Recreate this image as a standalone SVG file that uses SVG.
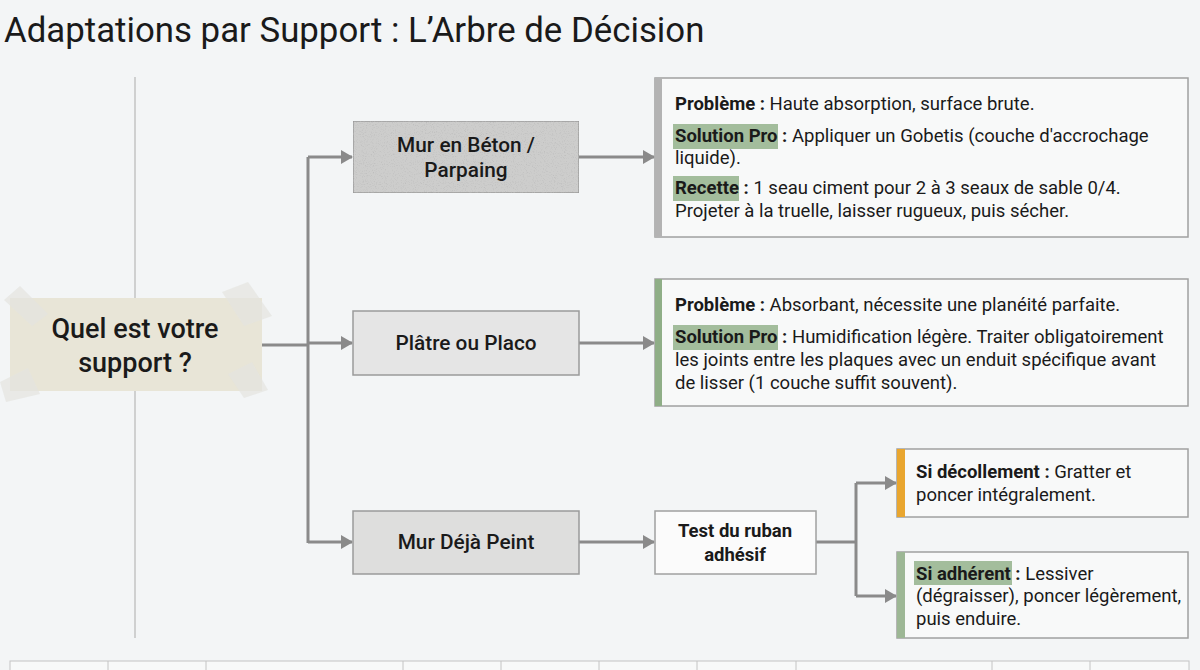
<svg xmlns="http://www.w3.org/2000/svg" width="1200" height="670" viewBox="0 0 1200 670">
<defs>
<style>
.t{font-family:Roboto,"Liberation Sans",Arial,sans-serif;fill:#1a1a1a}
.title{font-size:34.8px}
.node{font-size:20.8px;font-weight:500;text-anchor:middle}
.note{font-size:27px;font-weight:500;text-anchor:middle}
.body{font-size:18.5px}
.b{font-weight:700}
.conn{fill:none;stroke:#8a8a8a;stroke-width:3}
.box{stroke:#9a9a9a;stroke-width:1.5}
.card{fill:#f8f9f9;stroke:#a0a0a0;stroke-width:1.5}
.hl{fill:#a3bd9c}
.tape{fill:#e4e4df;opacity:0.7}
.grid{fill:#f8f9f9;stroke:#c4c4c4;stroke-width:1}
</style>
<marker id="ah" markerWidth="12" markerHeight="14" refX="11" refY="7" orient="auto" markerUnits="userSpaceOnUse">
<path d="M0,0 L12,7 L0,14 Z" fill="#8a8a8a"/>
</marker>
<filter id="concrete" x="0" y="0" width="100%" height="100%">
<feTurbulence type="fractalNoise" baseFrequency="0.9" numOctaves="2" seed="3" result="n"/>
<feColorMatrix in="n" type="matrix" values="0 0 0 0 0.5  0 0 0 0 0.5  0 0 0 0 0.5  0 0 0 -2.4 1.15" result="spk"/>
<feComposite in="spk" in2="SourceGraphic" operator="in" result="s2"/>
<feMerge><feMergeNode in="SourceGraphic"/><feMergeNode in="s2"/></feMerge>
</filter>
</defs>
<rect width="1200" height="670" fill="#f3f5f6"/>

<text class="t title" x="4" y="42">Adaptations par Support : L’Arbre de Décision</text>

<line x1="135" y1="77" x2="135" y2="638" stroke="#b8b8b8" stroke-width="1.2"/>

<g id="connectors">
<path class="conn" d="M262,345 H308"/>
<path class="conn" d="M308,157 V543"/>
<path class="conn" d="M308,157 H352" marker-end="url(#ah)"/>
<path class="conn" d="M308,343 H352" marker-end="url(#ah)"/>
<path class="conn" d="M308,542 H352" marker-end="url(#ah)"/>
<path class="conn" d="M579,157 H654" marker-end="url(#ah)"/>
<path class="conn" d="M579,343 H654" marker-end="url(#ah)"/>
<path class="conn" d="M579,542 H654" marker-end="url(#ah)"/>
<path class="conn" d="M816,542 H856"/>
<path class="conn" d="M856,483 V596"/>
<path class="conn" d="M856,483 H896" marker-end="url(#ah)"/>
<path class="conn" d="M856,596 H896" marker-end="url(#ah)"/>
</g>

<g id="question">
<rect x="10" y="298" width="252" height="93" fill="#e8e5d7"/>
<polygon class="tape" points="4,300 20,286 48,314 32,326"/>
<polygon class="tape" points="222,292 248,282 272,316 244,326"/>
<polygon class="tape" points="0,382 28,368 40,394 6,402"/>
<polygon class="tape" points="228,374 252,362 268,390 244,398"/>
<text class="t note" x="135" y="338">Quel est votre</text>
<text class="t note" x="135" y="372">support ?</text>
</g>

<g id="n-beton">
<rect class="box" x="353" y="121" width="226" height="72" fill="#cdcdcc" filter="url(#concrete)"/>
<text class="t node" x="466" y="152">Mur en Béton /</text>
<text class="t node" x="466" y="177">Parpaing</text>
</g>

<g id="n-platre">
<rect class="box" x="353" y="311" width="226" height="64" fill="#e5e5e5"/>
<text class="t node" x="466" y="350">Plâtre ou Placo</text>
</g>

<g id="n-peint">
<rect class="box" x="353" y="511" width="226" height="63" fill="#dededd"/>
<text class="t node" x="466" y="549">Mur Déjà Peint</text>
</g>

<g id="n-test">
<rect x="655" y="511" width="161" height="63" fill="#fbfbfb" stroke="#a0a0a0" stroke-width="1.5"/>
<text class="t node b" x="735" y="537" style="font-size:18.5px">Test du ruban</text>
<text class="t node b" x="735" y="561" style="font-size:18.5px">adhésif</text>
</g>

<g id="d-beton">
<rect class="card" x="655" y="78" width="533" height="159"/>
<rect x="655" y="78" width="7" height="159" fill="#b3b3b3"/>
<rect class="hl" x="673" y="124" width="105" height="25"/>
<rect class="hl" x="673" y="176" width="66" height="25"/>
<text class="t body" x="675" y="110"><tspan class="b">Problème :</tspan> Haute absorption, surface brute.</text>
<text class="t body" x="675" y="142"><tspan class="b">Solution Pro :</tspan> Appliquer un Gobetis (couche d'accrochage</text>
<text class="t body" x="675" y="164">liquide).</text>
<text class="t body" x="675" y="194"><tspan class="b">Recette :</tspan> 1 seau ciment pour 2 à 3 seaux de sable 0/4.</text>
<text class="t body" x="675" y="217">Projeter à la truelle, laisser rugueux, puis sécher.</text>
</g>

<g id="d-platre">
<rect class="card" x="655" y="279" width="533" height="127"/>
<rect x="655" y="279" width="7" height="127" fill="#8fae87"/>
<rect class="hl" x="673" y="325" width="105" height="25"/>
<text class="t body" x="675" y="311"><tspan class="b">Problème :</tspan> Absorbant, nécessite une planéité parfaite.</text>
<text class="t body" x="675" y="343"><tspan class="b">Solution Pro :</tspan> Humidification légère. Traiter obligatoirement</text>
<text class="t body" x="675" y="366">les joints entre les plaques avec un enduit spécifique avant</text>
<text class="t body" x="675" y="389">de lisser (1 couche suffit souvent).</text>
</g>

<g id="d-decollement">
<rect class="card" x="897" y="449" width="291" height="68"/>
<rect x="897" y="449" width="8" height="68" fill="#e9a62f"/>
<text class="t body" x="916" y="478"><tspan class="b">Si décollement :</tspan> Gratter et</text>
<text class="t body" x="916" y="501">poncer intégralement.</text>
</g>

<g id="d-adherent">
<rect class="card" x="897" y="552" width="291" height="86"/>
<rect x="897" y="552" width="8" height="86" fill="#9db795"/>
<rect class="hl" x="914" y="561" width="98" height="24"/>
<text class="t body" x="916" y="580"><tspan class="b">Si adhérent :</tspan> Lessiver</text>
<text class="t body" x="916" y="602">(dégraisser), poncer légèrement,</text>
<text class="t body" x="916" y="625">puis enduire.</text>
</g>

<g id="strip">
<rect class="grid" x="10" y="661" width="1179" height="12"/>
<path d="M108,661V670M206,661V670M403,661V670M501,661V670M599,661V670M697,661V670M796,661V670M992,661V670M1090,661V670" stroke="#c4c4c4" stroke-width="1"/>
</g>
</svg>
